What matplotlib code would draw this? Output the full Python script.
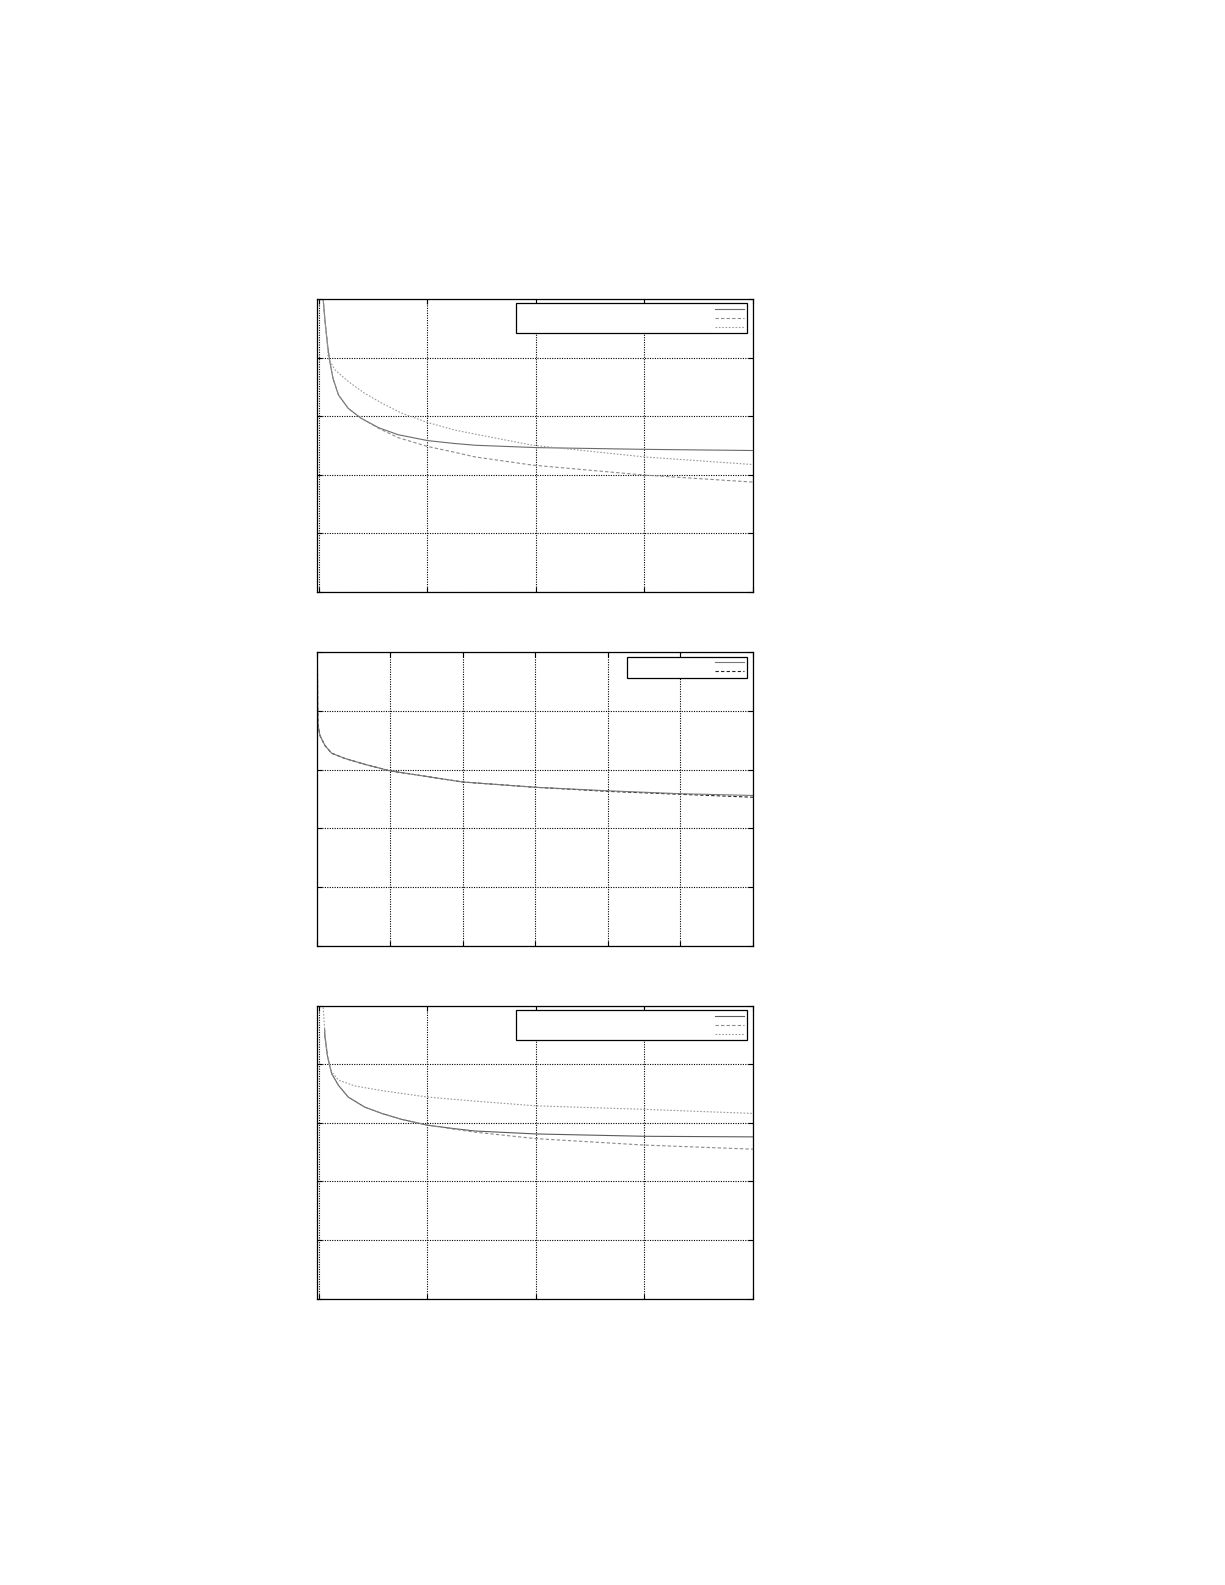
import matplotlib
matplotlib.use("Agg")
import matplotlib.pyplot as plt

# ---- Panel 1 data ----
p1_solid_x = [0.03, 0.04, 0.055, 0.08, 0.10, 0.13, 0.18, 0.27, 0.39, 0.55, 0.73, 1.0, 1.25, 1.44, 2.0, 3.0, 4.0]
p1_solid_y = [5.3, 4.98, 4.64, 4.21, 3.93, 3.64, 3.36, 3.13, 2.96, 2.80, 2.68, 2.58, 2.53, 2.50, 2.46, 2.43, 2.41]
p1_dash_x = [0.03, 0.04, 0.055, 0.08, 0.10, 0.13, 0.18, 0.27, 0.39, 0.55, 0.73, 1.0, 1.25, 1.44, 1.97, 3.0, 4.0]
p1_dash_y = [5.3, 4.98, 4.64, 4.21, 3.93, 3.64, 3.36, 3.13, 2.96, 2.79, 2.63, 2.48, 2.38, 2.30, 2.16, 1.99, 1.87]
p1_dot_x = [0.03, 0.04, 0.055, 0.075, 0.086, 0.147, 0.27, 0.42, 0.58, 0.76, 1.0, 1.25, 1.44, 1.97, 3.0, 4.0]
p1_dot_y = [5.3, 4.98, 4.64, 4.28, 3.99, 3.79, 3.59, 3.39, 3.22, 3.05, 2.89, 2.76, 2.69, 2.50, 2.30, 2.17]

# ---- Panel 2 data ----
p2_solid_x = [0.0, 0.005, 0.01, 0.037, 0.106, 0.198, 0.382, 0.657, 1.0, 2.0, 3.0, 4.0, 5.0, 6.0]
p2_solid_y = [5.2, 4.1, 3.76, 3.58, 3.41, 3.28, 3.19, 3.09, 2.98, 2.79, 2.70, 2.64, 2.59, 2.56]
p2_dash_x = [0.0, 0.005, 0.01, 0.037, 0.106, 0.198, 0.382, 0.657, 1.0, 2.0, 3.0, 4.0, 5.0, 6.0]
p2_dash_y = [5.2, 4.1, 3.76, 3.58, 3.41, 3.28, 3.19, 3.09, 2.98, 2.79, 2.70, 2.63, 2.58, 2.53]

# ---- Panel 3 data ----
p3_solid_x = [0.052, 0.055, 0.08, 0.117, 0.18, 0.27, 0.42, 0.58, 0.76, 1.0, 1.25, 1.44, 2.0, 3.0, 4.0]
p3_solid_y = [4.60, 4.47, 4.13, 3.84, 3.64, 3.44, 3.27, 3.16, 3.06, 2.96, 2.90, 2.86, 2.81, 2.77, 2.76]
p3_dash_x = [0.052, 0.055, 0.08, 0.117, 0.18, 0.27, 0.42, 0.58, 0.76, 1.0, 1.25, 1.44, 2.0, 3.0, 4.0]
p3_dash_y = [4.60, 4.47, 4.13, 3.84, 3.64, 3.44, 3.27, 3.16, 3.06, 2.96, 2.89, 2.84, 2.73, 2.62, 2.55]
p3_dot_x = [0.035, 0.04, 0.055, 0.08, 0.117, 0.18, 0.33, 0.58, 1.0, 1.44, 2.0, 3.0, 4.0]
p3_dot_y = [5.2, 4.95, 4.53, 4.13, 3.87, 3.73, 3.63, 3.55, 3.44, 3.37, 3.29, 3.23, 3.16]

W, H = 1225, 1585
fig = plt.figure(figsize=(W / 100, H / 100), dpi=100)


def make_ax(left, top, right, bottom):
    return fig.add_axes([left / W, 1 - bottom / H, (right - left) / W, (bottom - top) / H])


def style(ax, xlim, xticks, ylim, yticks):
    ax.set_xlim(*xlim)
    ax.set_ylim(*ylim)
    ax.set_xticks(xticks)
    ax.set_yticks(yticks)
    ax.set_xticklabels([])
    ax.set_yticklabels([])
    ax.tick_params(direction="in", length=3.5, width=0.8, top=True, right=True)
    ax.grid(True, linestyle=(0, (1, 1.2)), linewidth=0.8, color="k")
    for s in ax.spines.values():
        s.set_linewidth(0.9)


def legend(ax, handles, fs, htp, hl, anchor):
    ax.legend(handles, [""] * len(handles), loc="upper right", bbox_to_anchor=anchor,
              borderaxespad=0, markerfirst=False, fancybox=False, framealpha=1,
              edgecolor="k", fontsize=fs, handletextpad=htp, handlelength=hl,
              borderpad=0.45, labelspacing=0.42).get_frame().set_linewidth(0.9)


lw = 0.8

# Panel 1
ax1 = make_ax(317.3, 299, 753, 591.5)
style(ax1, (-0.015, 4.0), [0, 1, 2, 3, 4], (0, 5), [0, 1, 2, 3, 4, 5])
h1 = ax1.plot(p1_solid_x, p1_solid_y, "-", color="#6a6a6a", lw=lw)[0]
h2 = ax1.plot(p1_dash_x, p1_dash_y, linestyle=(0, (3, 2)), color="#8a8a8a", lw=lw)[0]
h3 = ax1.plot(p1_dot_x, p1_dot_y, linestyle=(0, (1.5, 1.5)), color="#9a9a9a", lw=lw)[0]
legend(ax1, [h1, h2, h3], 5, 28.2, 4.2, (0.986, 0.985))

# Panel 2
ax2 = make_ax(317.3, 652.3, 753, 945.7)
style(ax2, (0, 6), [0, 1, 2, 3, 4, 5, 6], (0, 5), [0, 1, 2, 3, 4, 5])
g2 = ax2.plot(p2_dash_x, p2_dash_y, linestyle=(0, (3, 2)), color="#222222", lw=lw)[0]
g1 = ax2.plot(p2_solid_x, p2_solid_y, "-", color="#777777", lw=lw)[0]
legend(ax2, [g1, g2], 5, 12.2, 4.2, (0.986, 0.985))

# Panel 3
ax3 = make_ax(317.3, 1005.7, 753, 1298.5)
style(ax3, (-0.015, 4.0), [0, 1, 2, 3, 4], (0, 5), [0, 1, 2, 3, 4, 5])
k1 = ax3.plot(p3_solid_x, p3_solid_y, "-", color="#5a5a5a", lw=lw)[0]
k2 = ax3.plot(p3_dash_x, p3_dash_y, linestyle=(0, (3, 2)), color="#8a8a8a", lw=lw)[0]
k3 = ax3.plot(p3_dot_x, p3_dot_y, linestyle=(0, (1.5, 1.5)), color="#9a9a9a", lw=lw)[0]
legend(ax3, [k1, k2, k3], 5, 28.2, 4.2, (0.986, 0.985))

fig.savefig("out.png", dpi=100)
